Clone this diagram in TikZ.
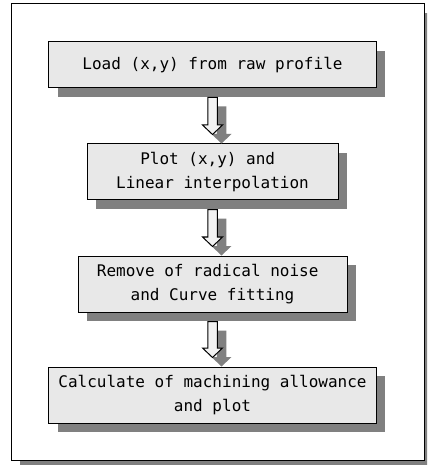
\documentclass[tikz,border=0pt]{standalone}
\usepackage{fontspec}
\setmainfont{DejaVu Sans Mono}
\usetikzlibrary{calc,shadows}
\definecolor{boxfill}{HTML}{E8E8E8}
\definecolor{shadowc}{HTML}{808080}
\definecolor{arrowfill}{HTML}{F2F2F2}
\newcommand\flowarrow[3]{%
  \path[#3] let \p1=(#1), \p2=(#2) in
    (\x1-4.75bp,\y1) -- (\x1+4.75bp,\y1) -- (\x1+4.75bp,\y2+9.5bp) --
    (\x1+10bp,\y2+9.5bp) -- (\x1,\y2) -- (\x1-10bp,\y2+9.5bp) --
    (\x1-4.75bp,\y2+9.5bp) -- cycle;}
\begin{document}
\begin{tikzpicture}[x=1bp,y=-1bp,
  stepbox/.style={draw=black, line width=1bp, fill=boxfill, align=center,
    inner sep=0pt, font=\fontsize{16bp}{23.5bp}\selectfont,
    general shadow={fill=shadowc, shadow xshift=9bp, shadow yshift=-9bp}},
  arrowshadow/.style={fill=shadowc},
  arrowbody/.style={draw=black, line width=1bp, fill=arrowfill, line join=miter}]
\useasboundingbox (0,0) rectangle (427,465);
\clip (0,0) rectangle (427,465);
% outer frame with shadow
\fill[shadowc] (20,13) rectangle (433,469);
\draw[line width=1bp, fill=white] (11,4) rectangle (424,460);
% boxes
\node[stepbox, minimum width=327bp, minimum height=46bp] (b1) at (212.5,65) {Load (x,y) from raw profile};
\node[stepbox, minimum width=251bp, minimum height=56bp] (b2) at (212.5,172) {Plot (x,y) and\hphantom{x}\\Linear interpolation};
\node[stepbox, minimum width=269bp, minimum height=56bp] (b3) at (212.5,284) {Remove of radical noise\hphantom{x}\\and Curve fitting};
\node[stepbox, minimum width=327bp, minimum height=56bp] (b4) at (212.5,395) {Calculate of machining allowance\\and plot};
% arrows
\foreach \a/\b/\k in {b1/b2/1,b2/b3/2,b3/b4/3}{
  \path ($(\a.south)+(0,9)$) coordinate (t\k)
        ($(\b.north)+(0,-9)$) coordinate (h\k)
        ($(t\k)+(9,9)$) coordinate (ts\k)
        ($(h\k)+(9,9)$) coordinate (hs\k);
  \flowarrow{ts\k}{hs\k}{arrowshadow}
  \flowarrow{t\k}{h\k}{arrowbody}
}
\end{tikzpicture}
\end{document}
